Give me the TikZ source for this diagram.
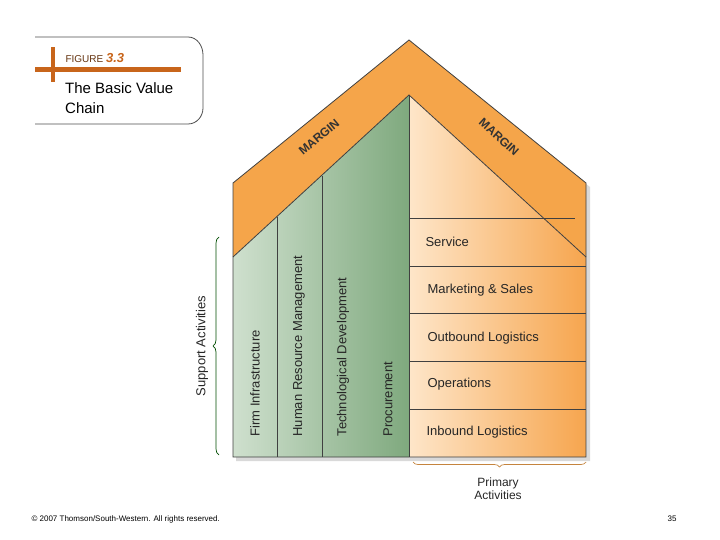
\documentclass[tikz,border=0pt]{standalone}
\usepackage{fontspec}
\setmainfont{Liberation Sans}
\usetikzlibrary{decorations.pathreplacing}
\definecolor{roof}{HTML}{F5A54A}
\definecolor{gl}{HTML}{CFE0CE}
\definecolor{gd}{HTML}{7FA97E}
\definecolor{ol}{HTML}{FEE6C9}
\definecolor{od}{HTML}{F6A54E}
\definecolor{fig}{HTML}{C8651B}
\begin{document}
\begin{tikzpicture}[x=1pt,y=-1pt,
  lab/.style={font=\fontsize{13}{14}\selectfont, anchor=west, text=black!85},
  vlab/.style={font=\fontsize{13}{14}\selectfont, rotate=90, anchor=west, text=black!85},
  edge/.style={draw=black!75, line width=0.8pt}]
\useasboundingbox (0,0) rectangle (720,540);
% shadow
\fill[black!15] (236,187) -- (412,44) -- (590,187) -- (590,461) -- (236,461) -- cycle;
% roof
\fill[roof] (233,183) -- (409,40) -- (586,183) -- (586,257) -- (409,95) -- (233,257) -- cycle;
% green
\shade[left color=gl, right color=gd] (233,257) -- (409,95) -- (409,457) -- (233,457) -- cycle;
% orange
\shade[left color=ol, right color=od] (409,95) -- (586,257) -- (586,457) -- (409,457) -- cycle;
% outline
\draw[edge] (233,183) -- (409,40) -- (586,183) -- (586,457) -- (233,457) -- cycle;
\draw[edge] (233,257) -- (409,95) -- (586,257);
\draw[edge] (409,95) -- (409,457);
\draw[edge] (277,217) -- (277,457);
\draw[edge] (322,176) -- (322,457);
\foreach \y in {266,313,361,409} \draw[edge] (409,\y) -- (586,\y);
\draw[edge] (409,218) -- (575,218);
% labels
\node[lab] (sv) at (422,242) {Service};
\node[lab] (ms) at (424,290) {Marketing \& Sales};
\node[lab] (ob) at (424,338) {Outbound Logistics};
\node[lab] (op) at (424,384) {Operations};
\node[lab] (ib) at (423,432) {Inbound Logistics};
\node[vlab] (fi) at (255,440) {Firm Infrastructure};
\node[vlab] (hr) at (299,440) {Human Resource Management};
\node[vlab] (td) at (343,440) {Technological Development};
\node[vlab] (pr) at (388,440) {Procurement};
\node[font=\bfseries\fontsize{12}{12}\selectfont, rotate=40, text=black!80, inner sep=0pt] (m1) at (319,137) {MARGIN};
\node[font=\bfseries\fontsize{12}{12}\selectfont, rotate=-42, text=black!80, inner sep=0pt] (m2) at (499,137) {MARGIN};
% braces
\draw[black!50!green!60!black, line width=0.7pt, decorate, decoration={brace, amplitude=6pt}] (219,455) -- (219,237);
\node[font=\fontsize{13}{14}\selectfont, rotate=90, text=black!85] (sa) at (202,346) {Support Activities};
\draw[od!80!black, line width=0.7pt, decorate, decoration={brace, amplitude=5pt}] (586,462) -- (413,462);
\node[font=\fontsize{12}{13}\selectfont, align=center, text=black!85] (pa) at (498,489) {Primary\\Activities};
% figure box
\draw[black!70, line width=0.8pt] (35,37) -- (188,37) to[out=0,in=90] (203,55) -- (203,108) to[out=-90,in=0] (188,124) -- (35,124);
\fill[fig] (51,47) rectangle (55,82);
\fill[fig] (35,67) rectangle (181,72);
\node[anchor=west, font=\fontsize{10}{10}\selectfont, text=fig!50!black] (fg) at (62,58) {FIGURE \textcolor{fig}{\bfseries\itshape\fontsize{13}{13}\selectfont 3.3}};
\node[anchor=north west, font=\fontsize{15}{20}\selectfont, align=left, inner sep=0pt] (tt) at (65,82) {The Basic Value\\Chain};
% footer
\node[anchor=west, font=\fontsize{8}{9}\selectfont] (cp) at (28,519) {© 2007 Thomson/South-Western. All rights reserved.};
\node[font=\fontsize{8}{9}\selectfont] (pg) at (672,519) {35};
\end{tikzpicture}
\end{document}
